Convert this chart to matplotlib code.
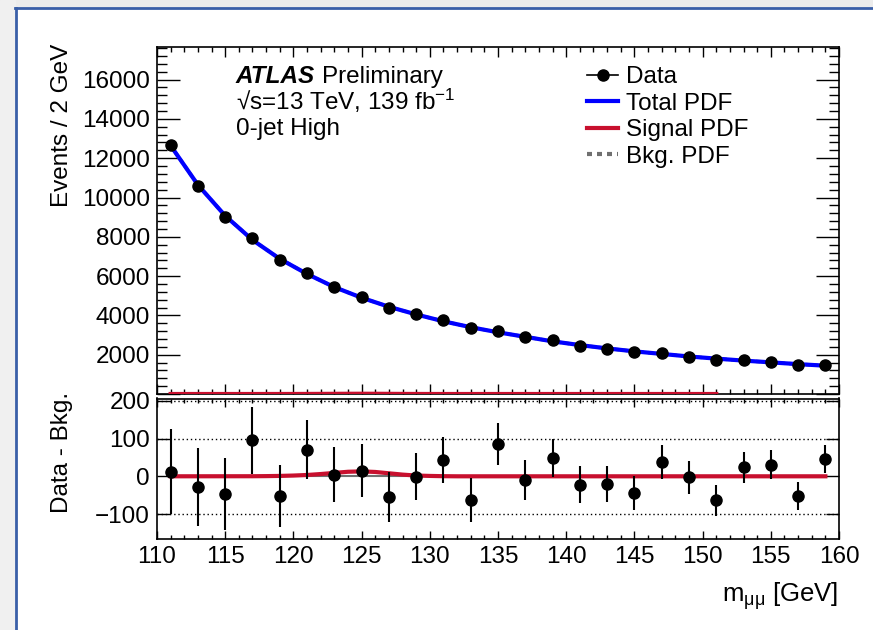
import matplotlib

matplotlib.use("Agg")
import matplotlib.pyplot as plt
from matplotlib.lines import Line2D
from matplotlib.patches import Rectangle
from matplotlib.ticker import FuncFormatter, MultipleLocator

plt.rcParams["font.family"] = ["Liberation Sans", "DejaVu Sans"]
plt.rcParams["mathtext.fontset"] = "custom"
plt.rcParams["mathtext.rm"] = "Liberation Sans"
plt.rcParams["mathtext.it"] = "Liberation Sans:italic"
plt.rcParams["mathtext.bf"] = "Liberation Sans:bold"

FS = 17.5

# bin centres (2 GeV bins)
mass = [111, 113, 115, 117, 119, 121, 123, 125, 127, 129, 131, 133, 135,
        137, 139, 141, 143, 145, 147, 149, 151, 153, 155, 157, 159]
events = [12652, 10611, 9023, 7935, 6827, 6180, 5444, 4915, 4386, 4049,
          3743, 3337, 3226, 2900, 2728, 2468, 2300, 2126, 2079, 1907,
          1737, 1724, 1641, 1467, 1486]
errors = [112, 103, 95, 89, 82, 78, 73, 70, 66, 63, 61, 58, 56, 53, 51,
          49, 47, 45, 45, 43, 41, 41, 39, 37, 37]
total_pdf = [12640, 10640, 9070, 7840, 6880, 6110, 5440, 4900, 4440, 4050,
             3700, 3400, 3140, 2910, 2680, 2490, 2320, 2170, 2040, 1910,
             1800, 1700, 1610, 1520, 1440]
residuals = [12, -29, -47, 95, -53, 70, 4, 15, -54, -1, 43, -63, 86, -10,
             48, -22, -20, -44, 39, -3, -63, 24, 31, -53, 46]

# signal PDF (events / 2 GeV)
sig_mass = [111, 117, 118, 119, 120, 121, 122, 123, 124, 125, 126, 127,
            128, 129, 130, 131, 132, 151, 159]
sig_vals = [0, 0.2, 0.5, 1, 2, 3.5, 6, 9, 12, 13, 11.5, 8, 4.5, 2, 1,
            0.3, 0, 0, 0]

blue = "#0000ff"
red = "#c8102e"
grey = "#707070"

W, H = 873, 630
fig = plt.figure(figsize=(W / 100, H / 100), dpi=100)


def fx(px):
    return px / W


def fy(py):
    return 1 - py / H


# window frame around the slide
fig.patches.append(Rectangle((0, fy(7)), 1, 1 - fy(7), transform=fig.transFigure,
                             color="#ececec", zorder=0))
fig.patches.append(Rectangle((0, 0), fx(15), 1, transform=fig.transFigure,
                             color="#f0f0f0", zorder=0))
fig.lines.append(Line2D([fx(15), 1], [fy(8), fy(8)], transform=fig.transFigure,
                        color="#3a5fa8", lw=2))
fig.lines.append(Line2D([fx(16), fx(16)], [0, fy(8)], transform=fig.transFigure,
                        color="#3a5fa8", lw=2))

ax = fig.add_axes([fx(157), fy(394), fx(839) - fx(157), fy(47) - fy(394)])
axr = fig.add_axes([fx(157), fy(539), fx(839) - fx(157), fy(398.5) - fy(539)])

# upper panel
ax.plot(mass, total_pdf, color=grey, lw=2.5, ls=(0, (1.2, 1.2)), zorder=2)
ax.plot(mass, total_pdf, color=blue, lw=3, zorder=3)
top_sig = [(m, v) for m, v in zip(sig_mass, sig_vals) if m <= 151]
ax.plot([m for m, _ in top_sig], [v for _, v in top_sig], color=red, lw=3,
        zorder=3)
ax.errorbar(mass, events, yerr=errors, fmt="o", color="black", ms=8,
            elinewidth=1.5, capsize=0, zorder=4)
ax.set_xlim(110, 160)
ax.set_ylim(0, 17660)
ax.xaxis.set_major_locator(MultipleLocator(5))
ax.xaxis.set_minor_locator(MultipleLocator(1))
ax.yaxis.set_major_locator(MultipleLocator(2000))
ax.yaxis.set_minor_locator(MultipleLocator(400))
ax.yaxis.set_major_formatter(FuncFormatter(lambda v, p: "" if v == 0 else f"{v:.0f}"))
ax.tick_params(axis="both", which="both", direction="in", top=True,
               right=True, labelbottom=False, width=1, pad=5, labelsize=FS)
ax.tick_params(axis="y", which="major", length=16.5)
ax.tick_params(axis="y", which="minor", length=7)
ax.tick_params(axis="x", which="major", length=7)
ax.tick_params(axis="x", which="minor", length=3.6)

# lower panel
for yv in (-100, 100, 200):
    axr.axhline(yv, color="black", ls=(0, (1, 2)), lw=1, zorder=1)
axr.plot([mass[0], mass[-1]], [0, 0], color=grey, lw=1.5, zorder=2)
axr.plot(sig_mass, sig_vals, color=red, lw=3, zorder=3)
axr.errorbar(mass, residuals, yerr=errors, fmt="o", color="black", ms=8,
             elinewidth=1.5, capsize=0, zorder=4)
axr.set_xlim(110, 160)
axr.set_ylim(-166, 206)
axr.xaxis.set_major_locator(MultipleLocator(5))
axr.xaxis.set_minor_locator(MultipleLocator(1))
axr.yaxis.set_major_locator(MultipleLocator(100))
axr.tick_params(axis="both", which="both", direction="in", top=True,
                right=True, width=1, pad=5, labelsize=FS)
axr.tick_params(axis="y", which="major", length=9.4)
axr.tick_params(axis="x", which="major", length=6)
axr.tick_params(axis="x", which="minor", length=3)

for a in (ax, axr):
    for sp in a.spines.values():
        sp.set_linewidth(1.2)

# axis titles
fig.text(fx(62), fy(44), "Events / 2 GeV", rotation=90, ha="center",
         va="top", fontsize=FS)
fig.text(fx(62), fy(392), "Data - Bkg.", rotation=90, ha="center",
         va="top", fontsize=FS)
fig.text(fx(838), fy(602), r"m$_{\mathrm{μμ}}$ [GeV]", ha="right",
         va="baseline", fontsize=FS + 1)

# labels
t = fig.text(fx(236), fy(83), "ATLAS", fontweight="bold", fontstyle="italic",
             va="baseline", fontsize=FS)
ax.annotate("Preliminary", xy=(1, 0), xycoords=t, xytext=(5, 0),
            textcoords="offset points", va="bottom", fontsize=FS)
fig.text(fx(236), fy(110), "√s=13 TeV, 139 fb$^{-1}$", va="baseline",
         fontsize=FS)
fig.text(fx(236), fy(135), "0-jet High", va="baseline", fontsize=FS)

handles = [
    Line2D([], [], color="black", marker="o", ms=8, lw=1.2),
    Line2D([], [], color=blue, lw=3),
    Line2D([], [], color=red, lw=3),
    Line2D([], [], color=grey, lw=3, ls=(0, (1.2, 1.2))),
]
labels = ["Data", "Total PDF", "Signal PDF", "Bkg. PDF"]
ax.legend(handles, labels, loc="upper left", bbox_to_anchor=(fx(587), fy(66)),
          bbox_transform=fig.transFigure, frameon=False, borderpad=0,
          borderaxespad=0, handlelength=1.28, handletextpad=0.33,
          labelspacing=0.19, fontsize=FS)

fig.savefig("out.png", dpi=100)
